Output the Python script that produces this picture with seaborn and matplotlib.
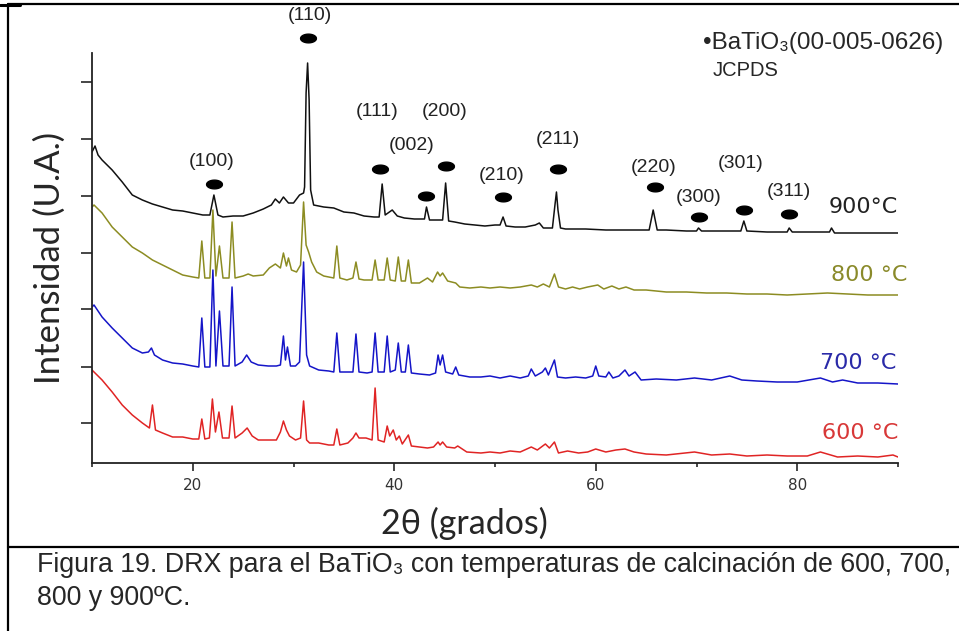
import matplotlib
matplotlib.use("Agg")
import matplotlib.pyplot as plt
from matplotlib.lines import Line2D
from matplotlib.path import Path
import numpy as np
import pandas as pd
import seaborn as sns

# XRD patterns (2theta in degrees, intensity in arbitrary units)
tt_900 = [10.0, 10.3, 10.6, 11, 12, 13, 14, 15, 16, 17, 18, 19, 20, 21, 21.7, 22.1, 22.5,
          23, 24, 25, 26, 27, 27.8, 28.2, 28.6, 29.0, 29.5, 30.0, 30.6, 31.0, 31.1, 31.25,
          31.4, 31.55, 31.7, 32.0, 33, 34, 35, 36, 37, 38, 38.5, 38.8, 39.1, 39.8, 40.3, 41,
          42, 43.0, 43.2, 43.5, 44, 44.8, 45.1, 45.4, 46, 47, 48, 49, 50, 50.5, 50.8, 51.1,
          52, 53, 54, 54.4, 54.8, 55.7, 55.95, 56.1, 56.25, 56.5, 57, 59, 61, 63, 65.3, 65.7,
          66.1, 67, 69, 70.0, 70.2, 70.5, 72, 74.4, 74.7, 75.0, 77, 79.0, 79.2, 79.5, 81,
          83.2, 83.4, 83.7, 86, 88, 90]
in_900 = [311, 317, 308, 303, 293, 281, 268, 263, 259, 256, 253, 252, 250, 248, 248, 268, 248,
          246, 247, 247, 250, 254, 258, 264, 260, 266, 260, 260, 268, 270, 276, 370,
          400, 363, 273, 258, 256, 255, 251, 250, 247, 246, 246, 279, 248, 253, 247, 245,
          244, 244, 256, 243, 243, 243, 280, 242, 241, 239, 238, 237, 238, 238, 246, 237,
          236, 236, 238, 240, 235, 235, 258, 271, 253, 235, 234, 234, 233, 233, 233, 253,
          233, 233, 232, 232, 235, 232, 232, 232, 242, 232, 231, 231, 235, 231, 231,
          231, 235, 230, 230, 230, 230]

tt_800 = [10.0, 10.2, 11, 12, 13, 14, 15, 16, 17, 18, 19, 20, 20.6, 20.9, 21.2, 21.7, 22.0,
          22.3, 22.65, 23.0, 23.6, 23.9, 24.2, 25, 25.5, 26, 27, 27.6, 28.2, 28.7, 29.0, 29.3,
          29.5, 29.8, 30.3, 30.7, 31.0, 31.25, 31.5, 31.8, 32.3, 33, 34.0, 34.3, 34.6, 35.3,
          35.9, 36.2, 36.5, 37, 37.8, 38.1, 38.4, 39.0, 39.3, 39.6, 40.1, 40.4, 40.7, 41.1,
          41.4, 41.7, 42.5, 43.3, 43.8, 44.3, 44.55, 44.8, 45.3, 46.1, 46.5, 47.5, 48.6, 49.5,
          50.5, 51.5, 52.5, 53.6, 54.2, 54.8, 55.4, 55.9, 56.3, 57, 57.7, 58.4, 59.2, 60.2,
          60.8, 61.6, 62.3, 63.0, 63.8, 65, 67, 69, 71, 73, 75, 77, 79, 81, 83, 85, 87, 90]
in_800 = [256, 258, 250, 236, 226, 216, 210, 203, 198, 193, 188, 186, 185, 222, 185, 185, 253,
          187, 217, 185, 185, 241, 185, 187, 189, 187, 188, 195, 199, 195, 210, 197,
          205, 193, 191, 198, 261, 218, 211, 201, 191, 187, 185, 217, 185, 183,
          185, 201, 184, 183, 183, 203, 183, 183, 205, 183, 182, 206, 182, 182,
          203, 180, 180, 185, 181, 191, 187, 190, 182, 180, 176, 175, 176, 175,
          176, 175, 176, 178, 176, 179, 176, 189, 176, 174, 176, 174, 176, 178,
          174, 177, 174, 176, 173, 173, 171, 171, 170, 170, 169, 169, 168, 169, 170, 169, 168, 168]

tt_700 = [10.0, 10.2, 11, 12, 13, 14, 15, 15.6, 15.9, 16.2, 17, 18, 19, 20, 20.6, 20.9, 21.2,
          21.7, 22.0, 22.3, 22.65, 23.0, 23.6, 23.9, 24.2, 24.9, 25.35, 25.8, 26.5, 27.5,
          28.3, 28.7, 29.0, 29.2, 29.4, 29.7, 30.2, 30.6, 31.0, 31.3, 31.6, 32.5, 33.5, 34.0,
          34.3, 34.6, 35.3, 35.9, 36.2, 36.5, 37.3, 37.8, 38.1, 38.4, 39.0, 39.3, 39.6, 40.1,
          40.4, 40.7, 41.1, 41.4, 41.7, 42.5, 43.5, 44.1, 44.35, 44.55, 44.8, 45.1, 45.8,
          46.1, 46.4, 47.5, 48.6, 49.5, 50.5, 51.5, 52.5, 53.3, 53.6, 54.0, 54.7, 55.0, 55.3,
          55.9, 56.2, 57, 58, 59, 59.7, 60.0, 60.3, 61.0, 61.3, 61.7, 62.3, 62.9, 63.3, 63.9,
          64.5, 66, 68, 69.8, 71.5, 73.3, 74.5, 76, 78, 80, 82.3, 83.5, 84.5, 86, 88, 90]
in_700 = [156, 158, 146, 135, 125, 115, 110, 111, 115, 108, 103, 100, 99, 97, 96, 145, 96,
          96, 193, 97, 152, 97, 97, 176, 97, 101, 108, 101, 98, 97,
          97, 98, 127, 103, 116, 97, 97, 101, 201, 108, 97, 93, 92, 91,
          130, 91, 91, 91, 129, 91, 90, 91, 130, 91, 91, 127, 91, 93,
          120, 91, 91, 118, 90, 89, 88, 90, 108, 98, 108, 91, 89,
          96, 88, 86, 86, 87, 85, 87, 85, 87, 94, 87, 91, 95, 88,
          103, 86, 85, 86, 85, 87, 97, 87, 86, 91, 85, 87, 93, 87, 91,
          83, 84, 83, 85, 83, 87, 83, 82, 81, 81, 85, 81, 83, 80, 80, 79]

tt_600 = [10.0, 10.2, 11, 12, 13, 14, 15, 15.7, 16.0, 16.3, 17, 18, 19, 20, 20.6, 20.9, 21.2,
          21.65, 21.95, 22.25, 22.6, 22.95, 23.6, 23.9, 24.2, 24.9, 25.4, 25.9, 26.5, 27.5,
          28.3, 28.7, 29.0, 29.3, 29.6, 30.2, 30.7, 31.0, 31.3, 31.6, 32.5, 33.5, 34.0, 34.3,
          34.6, 35.4, 35.9, 36.2, 36.5, 37.2, 37.8, 38.1, 38.4, 39.0, 39.3, 39.55, 39.9, 40.2,
          40.5, 40.8, 41.4, 41.7, 42.5, 43.3, 43.9, 44.35, 44.55, 44.8, 45.2, 46.0, 46.3,
          47.2, 48.6, 49.5, 50.5, 51.5, 52.5, 53.6, 54.2, 55.0, 55.4, 55.9, 56.3, 57.2, 58.3,
          59.2, 60.0, 61, 62, 62.9, 63.8, 65, 67, 69.8, 71.5, 73.3, 75, 77, 79, 81, 82.3, 84,
          86, 88, 89.5, 90]
in_600 = [93, 91, 83, 71, 58, 48, 40, 35, 58, 33, 30, 26, 26, 24, 24, 44, 24,
          25, 64, 31, 51, 25, 25, 57, 25, 30, 35, 27, 23, 23,
          23, 31, 42, 33, 27, 23, 25, 62, 23, 20, 20, 18, 18, 34,
          18, 20, 25, 30, 25, 25, 23, 75, 23, 21, 37, 27, 33, 23,
          27, 19, 28, 17, 16, 15, 16, 21, 18, 21, 16, 15, 17,
          11, 10, 11, 10, 12, 11, 16, 13, 19, 15, 21, 10, 12, 10,
          11, 14, 11, 13, 14, 11, 9, 8, 11, 8, 9, 7, 8, 7, 7, 11, 6,
          7, 6, 8, 6]

series_names = ["900°C", "800 °C", "700 °C", "600 °C"]
series_colors = ["#111111", "#8c8c22", "#1515c8", "#e02424"]
label_colors = ["#222222", "#8a8a2a", "#2a2aa8", "#d83838"]

# reflections of BaTiO3 (JCPDS 00-005-0626)
hkl = ["(100)", "(110)", "(111)", "(002)", "(200)", "(210)", "(211)", "(220)", "(300)", "(301)", "(311)"]
dot_x = [22.1, 31.4, 38.6, 43.2, 45.1, 50.8, 56.3, 65.9, 70.2, 74.7, 79.2]
dot_y = [279, 425, 294, 267, 297, 266, 294, 276, 246, 253, 249]
hkl_x = [21.9, 31.6, 38.3, 41.7, 45.0, 50.7, 56.2, 65.7, 70.2, 74.4, 79.2]
hkl_y = [302, 448, 352, 317, 352, 287, 324, 296, 266, 300, 272]

yticks = [40, 96, 154, 210, 267, 324, 381]

sns.set_style("ticks")
plt.rcParams["font.family"] = ["Liberation Sans", "DejaVu Sans"]

fig = plt.figure(figsize=(9.59, 6.31), dpi=100)
ax = fig.add_axes([92 / 959, (631 - 463) / 631, (898 - 92) / 959, 410 / 631])

curves = [(tt_900, in_900), (tt_800, in_800), (tt_700, in_700), (tt_600, in_600)]
for (tt, ii), name, col in zip(curves, series_names, series_colors):
    df = pd.DataFrame({"two_theta": tt, "intensity": ii})
    sns.lineplot(data=df, x="two_theta", y="intensity", color=col, lw=1.1,
                 sort=False, estimator=None, ax=ax)

# temperature labels
lab_x = [90.0, 90.9, 89.8, 90.0]
lab_y = [256, 188, 100, 30]
for name, col, lx, ly in zip(series_names, label_colors, lab_x, lab_y):
    ax.text(lx, ly, name, color=col, fontsize=16, family=["DejaVu Sans"],
            ha="right", va="center")

# reflection markers
ell = np.linspace(0, 2 * np.pi, 40)
dot_marker = Path(np.column_stack([np.cos(ell), 0.55 * np.sin(ell)]))
ax.scatter(dot_x, dot_y, marker=dot_marker, s=130, color="black", clip_on=False, zorder=5)
for lab, hx, hy in zip(hkl, hkl_x, hkl_y):
    ax.text(hx, hy, lab, fontsize=14, ha="center", va="center", color="#222222", clip_on=False)

ax.text(70.6, 420, "•BaTiO₃(00-005-0626)", fontsize=17.5, ha="left", va="center", clip_on=False)
ax.text(71.6, 392, "JCPDS", fontsize=14.5, ha="left", va="center", clip_on=False)

ax.set_xlim(10, 90)
ax.set_ylim(0, 410)
ax.set_xticks([20, 40, 60, 80])
ax.set_xticks([10, 30, 50, 70, 90], minor=True)
ax.set_xticklabels(["20", "40", "60", "80"], fontsize=11, family=["DejaVu Sans"], color="#333333")
ax.set_yticks(yticks)
ax.set_yticklabels([])
ax.tick_params(axis="x", which="major", length=6, width=1.2, direction="out", pad=5)
ax.tick_params(axis="x", which="minor", length=3, width=1.2, direction="out")
ax.tick_params(axis="y", length=8, width=1.2, direction="out")
sns.despine(ax=ax)
for sp in ["left", "bottom"]:
    ax.spines[sp].set_linewidth(1.3)
    ax.spines[sp].set_color("#222222")

ax.set_xlabel("2θ (grados)", fontsize=24.5, family=["Lato", "DejaVu Sans"], labelpad=10,
              x=(464 - 92) / 806)
ax.set_ylabel("Intensidad (U.A.)", fontsize=25, family=["Lato", "DejaVu Sans"], labelpad=7)

# frame and caption box
W, H = 959, 631
def fig_line(x0, y0, x1, y1, lw=1.6):
    fig.add_artist(Line2D([x0 / W, x1 / W], [1 - y0 / H, 1 - y1 / H], color="black", lw=lw,
                          transform=fig.transFigure))

fig_line(8, 4, 959, 4)
fig_line(0, 5, 20, 5, lw=2.2)
fig_line(8, 4, 8, 631)
fig_line(8, 547, 959, 547)

fig.text(37 / W, 1 - 572 / H, "Figura 19. DRX para el BaTiO₃ con temperaturas de calcinación de 600, 700,",
         fontsize=19.3, ha="left", va="baseline")
fig.text(37 / W, 1 - 605 / H, "800 y 900ºC.", fontsize=19.3, ha="left", va="baseline")

fig.savefig("out.png", dpi=100)
